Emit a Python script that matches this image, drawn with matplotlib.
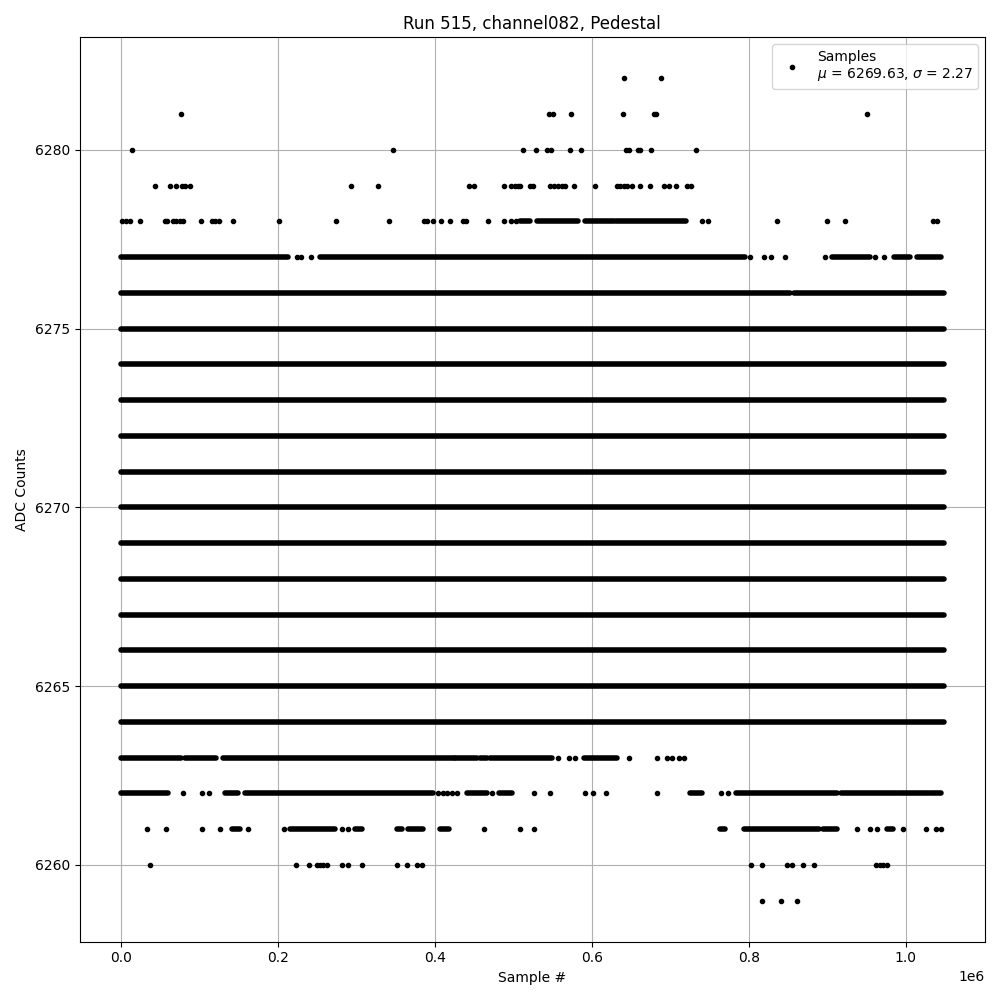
import numpy as np
import matplotlib
matplotlib.use("Agg")
import matplotlib.pyplot as plt

# Run 515, channel082 pedestal samples (ADC counts vs sample index)
n_samples = 1048576
last = n_samples - 1

# dense runs, where the samples sit on a level without visible gaps
run_level = [6276, 6276, 6275, 6274, 6273, 6272, 6271, 6270, 6269, 6268,
             6267, 6266, 6265, 6264,
             6277, 6277, 6277, 6277, 6277,
             6278, 6278, 6278, 6278,
             6263, 6263, 6263, 6263, 6263, 6263, 6263,
             6262, 6262, 6262, 6262, 6262, 6262, 6262, 6262, 6262, 6262,
             6261, 6261, 6261, 6261, 6261, 6261, 6261, 6261, 6261, 6261]
run_start = [0, 858000, 0, 0, 0, 0, 0, 0, 0, 0,
             0, 0, 0, 0,
             0, 254000, 906000, 985000, 1015000,
             509000, 530000, 592000, 631000,
             0, 81600, 129700, 426000, 458000, 471000, 590500,
             0, 133100, 158200, 441000, 481300, 725800, 784400, 917100,
             991500, 1031900,
             141200, 215500, 298500, 351600, 366500, 407000, 763200, 793800,
             895000, 976700]
run_end = [853000, last, last, last, last, last, last, last, last, last,
           last, last, last, last,
           213000, 795000, 955000, 1006000, 1045000,
           522000, 583000, 628000, 720000,
           77400, 122000, 424000, 454000, 466000, 549300, 632200,
           60400, 149700, 398400, 466400, 498300, 740700, 912000, 989400,
           1029800, 1045000,
           151800, 273000, 307000, 358000, 385700, 417600, 770400, 889500,
           912900, 984300]

# isolated samples per level
adc_6282 = [640800, 688000]
adc_6281 = [77000, 545000, 550200, 574000, 639400, 679900, 682300, 950600]
adc_6280 = [14500, 347400, 513000, 528500, 543000, 548500, 571900, 585900,
            644100, 647600, 658600, 662000, 675200, 732600]
adc_6279 = [43800, 62500, 70600, 78000, 81600, 88400, 293400, 328200,
            443900, 450300, 487700, 497000, 502600, 505500, 509000, 521000,
            525100, 546400, 551400, 556500, 562100, 566300, 577000, 603800,
            632200, 636500, 640800, 645000, 651400, 662000, 673900, 692600,
            698600, 707100, 721500, 726600]
adc_6278 = [1700, 6400, 11500, 24700, 56000, 59000, 66700, 71000, 75300,
            79500, 102000, 116000, 120000, 125000, 143000, 202000, 274700,
            342300, 386500, 390000, 398400, 408600, 420000, 435800, 440000,
            468500, 487700, 497500, 503000, 740600, 747900, 835900, 899700,
            922600, 1035300, 1040400]
adc_6277 = [225000, 230000, 242000, 802000, 819000, 828000, 846000,
            897000, 961000, 972000]
adc_6263 = [556500, 570600, 579100, 647100, 683700, 696400, 702400,
            710900, 717300]
adc_6262 = [79500, 103800, 112700, 404800, 410000, 415500, 421800, 428200,
            472800, 526800, 546400, 591000, 601200, 617800, 683700, 764100,
            773500]
adc_6261 = [33600, 57800, 103800, 126700, 162400, 208300, 281500, 290000,
            463400, 508100, 526800, 938400, 954500, 963900, 997000, 1025500,
            1038300, 1045500]
adc_6260 = [37400, 223000, 240000, 249600, 254000, 258000, 262300, 281500,
            290000, 307800, 352400, 365200, 377100, 383500, 802300, 817200,
            849100, 855500, 869500, 883500, 961800, 967000, 971500, 976700]
adc_6259 = [817200, 840600, 861000]

mu = 6269.63
sigma = 2.27

sparse = [(6282, adc_6282), (6281, adc_6281), (6280, adc_6280),
          (6279, adc_6279), (6278, adc_6278), (6277, adc_6277),
          (6263, adc_6263), (6262, adc_6262), (6261, adc_6261),
          (6260, adc_6260), (6259, adc_6259)]
xs = np.concatenate([np.array(v, dtype=float) for _, v in sparse])
ys = np.concatenate([np.full(len(v), lvl, dtype=float) for lvl, v in sparse])

fig, ax = plt.subplots(figsize=(10, 10), dpi=100)

# runs of touching markers drawn as thick round-capped segments
ax.hlines(run_level, run_start, run_end, colors='k', linewidth=4,
          capstyle='round')
ax.plot(xs, ys, '.', color='k',
        label='Samples\n$\\mu$ = %.2f, $\\sigma$ = %.2f' % (mu, sigma))

ax.set_xlim(-0.05 * last, 1.05 * last)
ax.set_ylim(6259 - 0.05 * 23, 6282 + 0.05 * 23)
ax.set_title('Run 515, channel082, Pedestal')
ax.set_xlabel('Sample #')
ax.set_ylabel('ADC Counts')
ax.grid(True)
ax.legend(loc='upper right')

fig.tight_layout()
fig.savefig('out.png')
